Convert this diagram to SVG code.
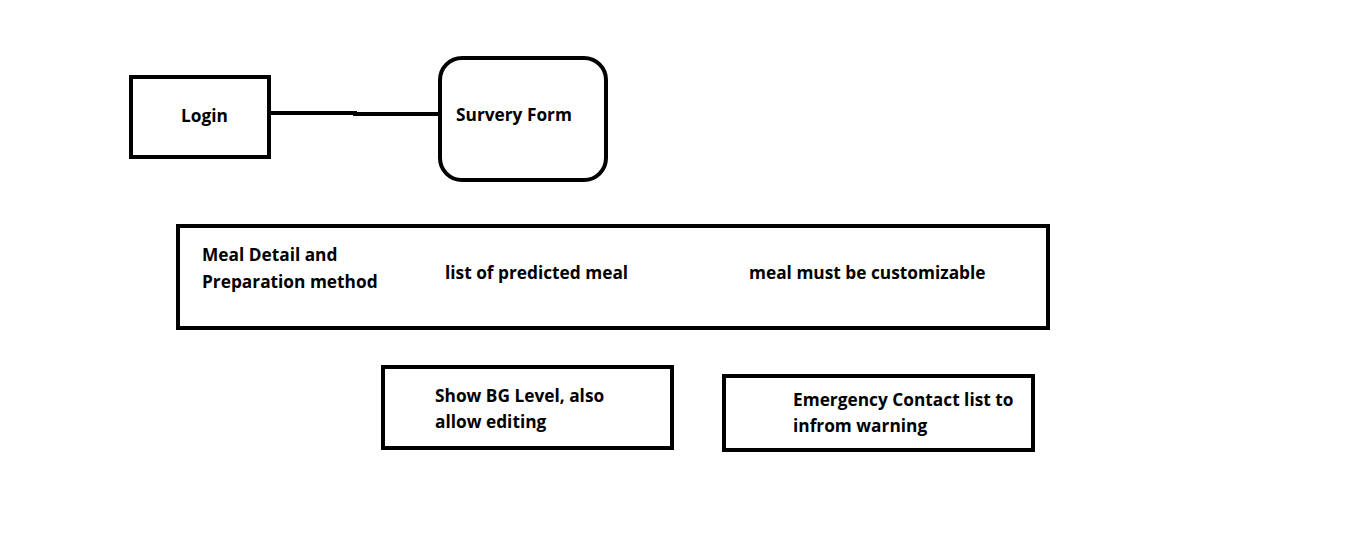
<svg xmlns="http://www.w3.org/2000/svg" width="1360" height="552" viewBox="0 0 1360 552">
<style>
.box{fill:#fff;stroke:#000;stroke-width:4}
.t{font-family:"Open Sans","Liberation Sans",sans-serif;font-weight:bold;font-size:17.3px;fill:#000}
.c{fill:none;stroke:#000;stroke-width:4}
</style>
<rect width="1360" height="552" fill="#fff"/>
<g id="connectors">
<polyline class="c" points="271,113 355,113 355,114 440,114"/>
</g>
<g id="login">
<rect class="box" x="131" y="77" width="138" height="80"/>
<text class="t" x="181" y="122">Login</text>
</g>
<g id="survey-form">
<rect class="box" x="440" y="58" width="166" height="122" rx="22"/>
<text class="t" x="456" y="121">Survery Form</text>
</g>
<g id="meal">
<rect class="box" x="178" y="226" width="870" height="102"/>
<text class="t" x="202" y="261">Meal Detail and</text>
<text class="t" x="202" y="288">Preparation method</text>
<text class="t" x="445" y="279">list of predicted meal</text>
<text class="t" x="749" y="279">meal must be customizable</text>
</g>
<g id="bg-level">
<rect class="box" x="383" y="367" width="289" height="81"/>
<text class="t" x="435" y="402">Show BG Level, also</text>
<text class="t" x="435" y="428">allow editing</text>
</g>
<g id="emergency">
<rect class="box" x="724" y="376" width="309" height="74"/>
<text class="t" x="793" y="406">Emergency Contact list to</text>
<text class="t" x="793" y="432">infrom warning</text>
</g>
</svg>
